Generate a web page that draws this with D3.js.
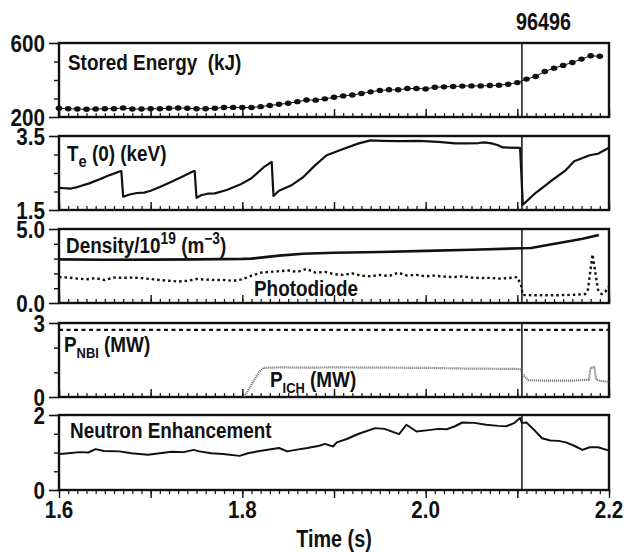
<!DOCTYPE html>
<html><head><meta charset="utf-8">
<script src="https://cdn.jsdelivr.net/npm/d3@7"></script>
<style>
body{margin:0;background:#fff;}
svg text{font-family:"Liberation Sans",Arial,sans-serif;font-weight:bold;fill:#111;white-space:pre;}
</style></head><body>
<svg id="c" width="624" height="552"></svg>
<script>
// ---- data ----
const shotNumber = "96496";
const markTime = 2.105;
const xTickLabels = [1.6, 1.8, 2.0, 2.2];

const energyT = d3.range(60).map(i => +(1.6 + i*0.01).toFixed(2));
const energyV = [247,245,243,242,243,245,245,249,243,243,245,245,247,249,247,245,245,247,251,252,252,251,256,262,269,274,283,292,291,298,307,314,319,327,336,343,347,347,354,354,352,361,363,365,367,368,368,370,372,377,386,405,419,446,464,479,495,513,531,528];

const teT = [1.600,1.605,1.613,1.620,1.633,1.645,1.656,1.666,1.668,1.670,1.677,1.685,1.693,1.700,1.710,1.724,1.736,1.746,1.748,1.750,1.755,1.762,1.770,1.783,1.797,1.810,1.823,1.832,1.834,1.840,1.853,1.866,1.879,1.892,1.910,1.927,1.940,1.953,1.971,1.992,2.014,2.032,2.045,2.058,2.064,2.072,2.079,2.084,2.103,2.106,2.118,2.136,2.153,2.162,2.179,2.188,2.200];
const teV = [2.10,2.09,2.08,2.12,2.22,2.34,2.45,2.54,2.55,1.86,1.92,1.96,1.97,2.02,2.12,2.28,2.42,2.54,2.55,1.83,1.90,1.94,1.95,2.04,2.18,2.36,2.65,2.80,1.88,2.02,2.16,2.38,2.70,2.98,3.15,3.30,3.38,3.37,3.36,3.37,3.34,3.30,3.30,3.31,3.33,3.30,3.25,3.19,3.18,1.64,1.92,2.27,2.58,2.82,2.98,3.02,3.18];

const densT = [1.60,1.65,1.70,1.75,1.80,1.81,1.84,1.866,1.90,1.95,2.00,2.05,2.105,2.115,2.13,2.15,2.17,2.189];
const densV = [2.95,2.92,2.93,2.95,2.98,3.00,3.20,3.33,3.40,3.45,3.52,3.60,3.70,3.72,3.88,4.10,4.32,4.59];

const photoT = [1.60,1.61,1.62,1.63,1.64,1.65,1.66,1.67,1.68,1.69,1.70,1.71,1.72,1.73,1.74,1.75,1.76,1.77,1.78,1.79,1.80,1.81,1.82,1.83,1.84,1.85,1.86,1.87,1.88,1.89,1.90,1.91,1.92,1.93,1.94,1.95,1.96,1.97,1.98,1.99,2.00,2.01,2.02,2.03,2.04,2.05,2.06,2.07,2.08,2.09,2.10,2.104,2.106,2.12,2.14,2.16,2.174,2.177,2.182,2.188,2.192,2.196,2.199];
const photoV = [1.75,1.72,1.65,1.60,1.68,1.55,1.72,1.70,1.72,1.68,1.62,1.55,1.50,1.45,1.50,1.62,1.58,1.55,1.55,1.50,1.60,1.85,2.05,2.10,2.15,2.20,2.10,2.30,2.05,2.10,1.95,1.90,2.00,1.85,1.80,1.90,1.82,2.05,1.85,1.90,1.80,1.85,1.78,1.75,1.80,1.72,1.68,1.70,1.65,1.68,1.75,1.20,0.54,0.52,0.52,0.55,0.60,0.90,3.29,0.90,0.60,0.75,1.10];

const nbiT = [1.60, 2.20];
const nbiV = [2.72, 2.72];

const ichT = [1.802,1.810,1.818,1.823,1.84,1.87,1.90,1.95,2.00,2.05,2.10,2.104,2.106,2.112,2.13,2.16,2.178,2.180,2.184,2.186,2.19,2.20];
const ichV = [0.00,0.50,1.00,1.18,1.20,1.19,1.20,1.19,1.18,1.15,1.14,1.12,0.90,0.68,0.66,0.66,0.70,1.20,1.20,0.70,0.65,0.62];

const neuT = [1.601,1.610,1.623,1.632,1.640,1.649,1.666,1.679,1.697,1.710,1.723,1.736,1.747,1.753,1.766,1.779,1.797,1.806,1.819,1.840,1.849,1.858,1.871,1.884,1.890,1.899,1.903,1.914,1.927,1.945,1.955,1.971,1.979,1.990,2.001,2.014,2.023,2.032,2.040,2.053,2.066,2.079,2.088,2.097,2.101,2.103,2.105,2.110,2.118,2.127,2.136,2.145,2.153,2.162,2.171,2.179,2.188,2.200];
const neuV = [0.96,0.98,1.01,1.00,1.09,1.04,1.03,0.98,0.94,0.98,1.02,1.01,1.07,1.03,0.98,0.96,0.91,0.98,1.04,1.12,1.03,1.07,1.12,1.18,1.23,1.16,1.27,1.36,1.50,1.65,1.63,1.49,1.74,1.56,1.59,1.63,1.62,1.70,1.80,1.79,1.74,1.71,1.70,1.79,1.88,1.92,1.79,1.80,1.61,1.38,1.32,1.31,1.27,1.18,1.07,1.14,1.14,1.05];

// ---- layout ----
const svg = d3.select("#c");
const L = 59, R = 609;
const SX = 0.86; // condensed look
const x = d3.scaleLinear().domain([1.6, 2.2]).range([L, R]);
const panels = [
  {top:43, bottom:117, dom:[200,600], labels:[[200,"200"],[600,"600"]], minor:[300,400,500]},
  {top:136, bottom:210, dom:[1.5,3.5], labels:[[1.5,"1.5"],[3.5,"3.5"]], minor:[2.0,2.5,3.0]},
  {top:229, bottom:303, dom:[0,5], labels:[[0,"0.0"],[5,"5.0"]], minor:[1,2,3,4]},
  {top:323, bottom:397, dom:[0,3], labels:[[0,"0"],[3,"3"]], minor:[1,2]},
  {top:415, bottom:490, dom:[0,2], labels:[[0,"0"],[2,"2"]], minor:[0.5,1,1.5]}
];
panels.forEach(p => p.y = d3.scaleLinear().domain(p.dom).range([p.bottom, p.top]));

function txt(px, py, size, anchor) {
  return svg.append("g").attr("transform", `translate(${px},${py}) scale(${SX},1)`)
    .append("text").attr("x", 0).attr("y", 0).attr("font-size", size)
    .attr("text-anchor", anchor || "start");
}

const minorX = d3.range(61).map(i => 1.6 + i*0.01);
const majorX = d3.range(7).map(i => 1.6 + i*0.1);

panels.forEach((p, i) => {
  const g = svg.append("g");
  const last = i === panels.length - 1;
  const s = last ? 1 : -1;
  g.append("g").attr("transform", `translate(0,${p.bottom})`)
    .call(d3.axisBottom(x).tickValues(minorX).tickSize(s*4).tickFormat(""))
    .call(a => { a.select(".domain").remove(); a.selectAll("line").attr("stroke","#111").attr("stroke-width",1.2); });
  g.append("g").attr("transform", `translate(0,${p.bottom})`)
    .call(d3.axisBottom(x).tickValues(majorX).tickSize(s*8).tickFormat(""))
    .call(a => { a.select(".domain").remove(); a.selectAll("line").attr("stroke","#111").attr("stroke-width",1.4); });
  g.append("g").attr("transform", `translate(${L},0)`)
    .call(d3.axisLeft(p.y).tickValues(p.minor).tickSize(5).tickFormat(""))
    .call(a => { a.select(".domain").remove(); a.selectAll("line").attr("stroke","#111").attr("stroke-width",1.4); });
  g.append("g").attr("transform", `translate(${L},0)`)
    .call(d3.axisLeft(p.y).tickValues(p.labels.map(d=>d[0])).tickSize(10).tickFormat(""))
    .call(a => { a.select(".domain").remove(); a.selectAll("line").attr("stroke","#111").attr("stroke-width",1.6); });
  p.labels.forEach(([v, t]) => {
    txt(45, p.y(v), 24, "end").attr("dy", "0.36em").text(t);
  });
  g.append("line").attr("x1", x(markTime)).attr("x2", x(markTime))
    .attr("y1", p.top).attr("y2", p.bottom).attr("stroke", "#111").attr("stroke-width", 1.5);
  g.append("rect").attr("x", L).attr("y", p.top).attr("width", R - L).attr("height", p.bottom - p.top)
    .attr("fill", "none").attr("stroke", "#111").attr("stroke-width", 2.4);
});

function drawLine(p, T, V, opts) {
  const line = d3.line().x((d,i) => x(T[i])).y((d,i) => p.y(V[i]));
  svg.append("path").datum(V).attr("d", line).attr("fill", "none")
    .attr("stroke", opts.color || "#111").attr("stroke-width", opts.w || 2)
    .attr("stroke-dasharray", opts.dash || null).attr("stroke-linejoin", "round");
}

const p1 = panels[0];
drawLine(p1, energyT, energyV, {w:1});
svg.append("g").selectAll("ellipse").data(energyV).join("ellipse")
  .attr("cx", (d,i) => x(energyT[i])).attr("cy", d => p1.y(d))
  .attr("rx", 3.3).attr("ry", 2.7).attr("fill", "#111");

drawLine(panels[1], teT, teV, {w:2.2});
drawLine(panels[2], densT, densV, {w:2.6});
drawLine(panels[2], photoT, photoV, {w:2.4, dash:"2.5,3"});
drawLine(panels[3], nbiT, nbiV, {w:2.4, dash:"4,3.5"});
drawLine(panels[3], ichT, ichV, {w:2.2, dash:"1,1", color:"#666"});
drawLine(panels[4], neuT, neuV, {w:2});

xTickLabels.forEach(v => { txt(x(v), 518, 24, "middle").text(v.toFixed(1)); });
txt((L+R)/2, 547, 23, "middle").text("Time (s)");
txt(516, 30, 23).text(shotNumber);

const fs = 22;
txt(68, 70, fs).text("Stored Energy  (kJ)");
const te = txt(67, 161, fs);
te.append("tspan").text("T");
te.append("tspan").attr("font-size", 17).attr("dy", 6).text("e");
te.append("tspan").attr("dy", -6).text(" (0) (keV)");
const de = txt(66, 253, fs);
de.append("tspan").text("Density/10");
de.append("tspan").attr("font-size", 16).attr("dy", -9).text("19");
de.append("tspan").attr("dy", 9).text(" (m");
de.append("tspan").attr("font-size", 16).attr("dy", -9).text("\u22123");
de.append("tspan").attr("dy", 9).text(")");
txt(254, 296, fs).text("Photodiode");
const nb = txt(64, 352, fs);
nb.append("tspan").text("P");
nb.append("tspan").attr("font-size", 15).attr("dy", 6).text("NBI");
nb.append("tspan").attr("dy", -6).text(" (MW)");
const ic = txt(270, 387, fs);
ic.append("tspan").text("P");
ic.append("tspan").attr("font-size", 15).attr("dy", 6).text("ICH");
ic.append("tspan").attr("dy", -6).text(" (MW)");
txt(70, 438, fs).text("Neutron Enhancement");
</script>
</body></html>
